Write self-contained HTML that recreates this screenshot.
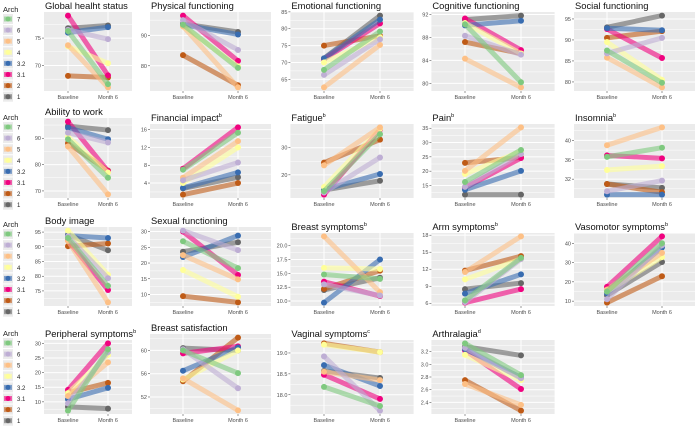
<!DOCTYPE html>
<html><head><meta charset="utf-8">
<style>
html,body{margin:0;padding:0;background:#fff;}
svg{display:block;font-family:"Liberation Sans",Arial,sans-serif;}
</style></head>
<body>
<svg id="chart" width="698" height="429" viewBox="0 0 698 429" xmlns="http://www.w3.org/2000/svg"></svg>
<script>
const archs = ['7','6','5','4','3.2','3.1','2','1'];
const colors = ['#7FC97F','#BEAED4','#FDC086','#FFFF99','#386CB0','#F0027F','#BF5B17','#666666'];
const timepoints = ['Baseline','Month 6'];

const titles = ['Global healht status','Physical functioning','Emotional functioning','Cognitive functioning','Social functioning',
  'Ability to work','Financial impact','Fatigue','Pain','Insomnia',
  'Body image','Sexual functioning','Breast symptoms','Arm symptoms','Vasomotor symptoms',
  'Peripheral symptoms','Breast satisfaction','Vaginal symptoms','Arthralagia'];
const sups = ['','','','','', '','b','b','b','b', '','','b','b','b', 'b','','c','d'];

const tickLabels = [
  ['70','75'],['80','90'],['65','70','75','80','85'],['80','84','88','92'],['80','85','90','95'],
  ['70','80','90'],['4','8','12','16'],['20','30'],['15','20','25','30','35'],['32','36','40'],
  ['75','80','85','90','95'],['10','15','20','25','30'],['10.0','12.5','15.0','17.5','20.0'],['6','9','12','15','18'],['10','20','30','40'],
  ['10','15','20','25','30'],['52','56','60'],['18.0','18.5','19.0'],['2.4','2.6','2.8','3.0','3.2']];

const baseline = [
  [76.3,76.5,73.7,73.5,76,79.1,68.1,76.8],
  [93.5,95,93,93,93.5,96.5,83.5,93.8],
  [67.8,66.3,62.6,70,71.2,71,75,71.2],
  [90.3,88.3,84.3,90.5,90.1,91.3,87.2,91.1],
  [87.5,86.8,85.8,89.5,92.8,92.6,90.5,93.0],
  [89.6,92.1,86.9,90.5,94,96.3,88.1,94.6],
  [7.0,4.6,5.2,4.0,2.9,7.2,1.4,2.8],
  [14,13.5,23.5,15.5,14.5,12.7,24.5,14.4],
  [16.2,14.5,20.1,19,13.5,14.2,22.9,11.8],
  [36.6,29.5,39,33.9,28.8,36.9,31,31],
  [93,93.5,92,95.5,93.8,92.2,90.2,94.1],
  [26.9,30.3,22.5,17.8,21.9,30,9.5,23.6],
  [14.8,13,21.7,16,9.7,13.5,12.2,12],
  [6.5,6.2,11.5,10.2,7.7,6.1,11.75,8.5],
  [15,11,16,15,14,17.4,9.2,13],
  [7,9.5,12,13,10.9,14.1,13.1,8.3],
  [60,60.2,55.2,55,56.5,59.5,54.7,60.4],
  [18.19,18.92,18.55,19.2,18.71,18.48,19.23,18.57],
  [3.33,3.26,2.69,3.15,3.24,3.22,2.75,3.28]];
const month6 = [
  [66.6,74.8,66,70.4,77,68.2,67.8,77.3],
  [79.3,85.2,72.9,79.8,90.3,81.6,73.6,91.1],
  [79.2,76.9,75.2,77.5,82.7,81.6,77.9,83.9],
  [80.2,85,79.3,85.2,90.9,85.8,85.2,91.8],
  [79.8,90.5,78.7,80.5,92.3,85.7,92.1,95.8],
  [75,88.4,68.7,77,89.6,77.5,77.7,93.1],
  [15.3,8.6,13.4,12,6.4,16.5,4.0,5.3],
  [35,26.4,37.5,37,20.3,36.7,33,17.8],
  [27.4,26,35.3,27,20.1,24.6,24.8,11.8],
  [38.5,31.7,42.7,34.7,28.8,36.3,29.3,30.2],
  [76.7,79.3,71.1,80.5,93,75.3,91.1,88.8],
  [18.4,24.1,14.8,9.3,28.7,16.2,7.5,26.6],
  [14,11,11.6,15.8,17.5,10.9,15.5,14.2],
  [14,13.8,17.8,13.8,11.1,8.5,14.3,9.55],
  [40,39,35,32.8,37.8,43.6,22.9,30.3],
  [28,27,23.5,26,14.8,30,16.5,7.7],
  [56.1,53.5,49.7,60,60.5,60.7,62.2,60],
  [17.73,17.62,18.35,19.02,18.21,17.9,19.02,18.4],
  [2.83,2.78,2.36,2.75,2.79,2.61,2.27,3.14]];

const NS='http://www.w3.org/2000/svg';
const svg=document.getElementById('chart');
function mk(tag,attrs,parent){const e=document.createElementNS(NS,tag);for(const k in attrs)e.setAttribute(k,attrs[k]);(parent||svg).appendChild(e);return e;}

const colB=[68,183,324,465,607], colM=[108,238,380,521,662];
const rowTop=[12,118,227,334], rowBot=[91,198,306,414];
const legY0=[19,127,234,343];

for(let r=0;r<4;r++){
  const g=mk('g',{});
  
  
  const t=mk('text',{x:3,y:legY0[r]-7,'font-size':7.5,fill:'#222'},g);t.textContent='Arch';
  
  
  archs.forEach((a,i)=>{
    const y=legY0[r]+i*11.1;
    const e=mk('g',{},g);
    
    
    mk('rect',{x:3,y:y-5,width:10,height:10,fill:'#ebebeb'},e);
    mk('line',{x1:4,y1:y,x2:12,y2:y,stroke:colors[i],'stroke-width':5,'stroke-opacity':0.6},e);
    mk('circle',{cx:8,cy:y,r:2.5,fill:colors[i]},e);
    const lt=mk('text',{x:17,y:y+2.5,'font-size':6,fill:'#222'},e);lt.textContent=a;
  });
}

titles.forEach((title,p)=>{
  const r=Math.floor(p/5), c=p%5;
  const bx=colB[c], mx=colM[c], gap=mx-bx;
  const x0=bx-0.6*gap, x1=mx+0.6*gap;
  const top=rowTop[r]+(sups[p]?6:0), bot=rowBot[r];
  const vals=baseline[p].concat(month6[p]);
  const lo0=Math.min(...vals), hi0=Math.max(...vals), rg=hi0-lo0;
  const lo=lo0-0.05*rg, hi=hi0+0.05*rg;
  const y=v=>bot-(v-lo)/(hi-lo)*(bot-top);
  const xs=[bx,mx];
  const g=mk('g',{});
  
  
  mk('rect',{x:x0,y:top,width:x1-x0,height:bot-top,fill:'#EBEBEB'},g);
  const ticks=tickLabels[p].map(Number);
  for(let k=0;k<ticks.length-1;k++){const m=(ticks[k]+ticks[k+1])/2;mk('line',{x1:x0,x2:x1,y1:y(m),y2:y(m),stroke:'#fff','stroke-width':0.5},g);}
  const step=ticks.length>1?ticks[1]-ticks[0]:1;
  [ticks[0]-step/2,ticks[ticks.length-1]+step/2].forEach(m=>{if(y(m)>top&&y(m)<bot)mk('line',{x1:x0,x2:x1,y1:y(m),y2:y(m),stroke:'#fff','stroke-width':0.5},g);});
  ticks.forEach((tv,k)=>{
    const ty=y(tv);
    mk('line',{x1:x0,x2:x1,y1:ty,y2:ty,stroke:'#fff','stroke-width':1},g);
    mk('line',{x1:x0-2,x2:x0,y1:ty,y2:ty,stroke:'#333','stroke-width':0.5},g);
    const tl=mk('text',{x:x0-3,y:ty+2,'font-size':5.5,fill:'#4d4d4d','text-anchor':'end'},g);
    tl.textContent=tickLabels[p][k];
    
    
  });
  xs.forEach((xx,k)=>{
    mk('line',{x1:xx,x2:xx,y1:top,y2:bot,stroke:'#fff','stroke-width':1},g);
    mk('line',{x1:xx,x2:xx,y1:bot,y2:bot+2,stroke:'#333','stroke-width':0.5},g);
    const xl=mk('text',{x:xx,y:bot+8,'font-size':5.5,fill:'#4d4d4d','text-anchor':'middle'},g);
    xl.textContent=timepoints[k];
    
    
  });
  const tt=mk('text',{x:x0+1,y:top-3,'font-size':9.4,fill:'#111'},g);
  tt.textContent=title;
  
  
  if(sups[p]){const s=mk('tspan',{'font-size':5.5,dy:-4},tt);s.textContent=sups[p];}
  for(let i=archs.length-1;i>=0;i--){
    const ln=mk('line',{x1:bx,y1:y(baseline[p][i]),x2:mx,y2:y(month6[p][i]),stroke:colors[i],'stroke-width':5,'stroke-opacity':0.6,'stroke-linecap':'round'},g);
    
    
    [baseline[p][i],month6[p][i]].forEach((v,k)=>{
      const pt=mk('circle',{cx:xs[k],cy:y(v),r:3,fill:colors[i]},g);
      
      
    });
  }
});
</script>
</body></html>
